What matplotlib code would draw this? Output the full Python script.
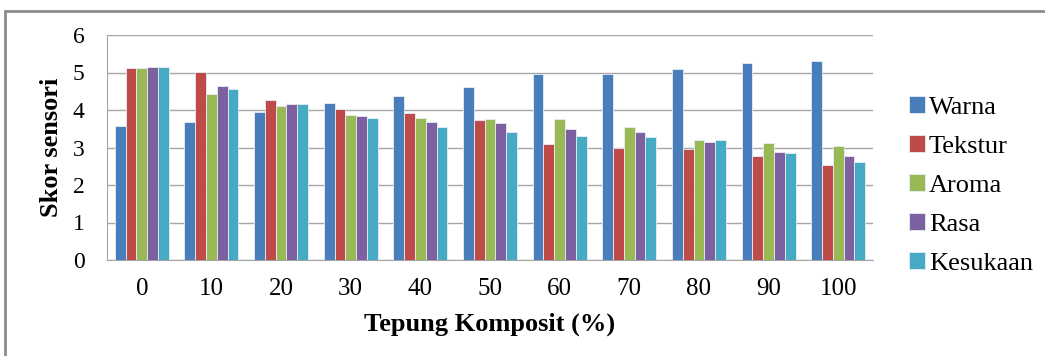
import matplotlib.pyplot as plt
import numpy as np
from matplotlib.patches import Rectangle

plt.rcParams['font.family'] = ['Liberation Serif', 'DejaVu Serif']

# data
categories = ['0', '10', '20', '30', '40', '50', '60', '70', '80', '90', '100']
series_names = ['Warna', 'Tekstur', 'Aroma', 'Rasa', 'Kesukaan']
warna = [3.57, 3.68, 3.96, 4.20, 4.38, 4.62, 4.96, 4.96, 5.09, 5.25, 5.32]
tekstur = [5.11, 5.01, 4.28, 4.04, 3.91, 3.73, 3.10, 3.00, 2.95, 2.77, 2.53]
aroma = [5.11, 4.43, 4.10, 3.88, 3.80, 3.76, 3.76, 3.55, 3.21, 3.13, 3.03]
rasa = [5.16, 4.65, 4.15, 3.83, 3.68, 3.65, 3.50, 3.42, 3.16, 2.87, 2.77]
kesukaan = [5.16, 4.57, 4.15, 3.80, 3.55, 3.42, 3.30, 3.27, 3.21, 2.85, 2.61]
values = [warna, tekstur, aroma, rasa, kesukaan]
colors = ['#4A7EBB', '#BE4B48', '#98B954', '#7D60A0', '#46AAC5']

fig = plt.figure(figsize=(10.45, 3.56), dpi=100)
# outer chart border (only left/top visible in the picture)
fig.patches.append(Rectangle((5/1045, -0.05), 1.1, 1 - 11/356 + 0.05,
                             transform=fig.transFigure, fill=False,
                             edgecolor='#8c8c8c', linewidth=2))

ax = fig.add_axes([107/1045, 96/356, 766/1045, 225/356])
x = np.arange(len(categories))
w = 0.155
for i, (name, vals, c) in enumerate(zip(series_names, values, colors)):
    ax.bar(x + (i - 2) * w, vals, w, color=c, label=name,
           edgecolor='#e8eef6', linewidth=0.6, zorder=3)

ax.set_xlim(-0.5, len(categories) - 0.5)
ax.set_ylim(0, 6)
ax.set_yticks(range(0, 7))
ax.set_xticks(x)
ax.set_xticklabels(categories)
ax.tick_params(axis='x', length=0, labelsize=18, pad=13)
ax.tick_params(axis='y', length=0, labelsize=17, pad=16)
ax.grid(axis='y', color='#a6a6a6', linewidth=1, zorder=0)
for s in ['top', 'right']:
    ax.spines[s].set_visible(False)
for s in ['left', 'bottom']:
    ax.spines[s].set_color('#a6a6a6')
ax.set_ylabel('Skor sensori', fontsize=19, fontweight='bold', labelpad=7)
ax.set_xlabel('Tepung Komposit (%)', fontsize=19, fontweight='bold', labelpad=9)

leg = ax.legend(loc='center left', bbox_to_anchor=(1.047, 0.33), frameon=False,
                fontsize=19, handlelength=0.6, handleheight=0.6,
                handletextpad=0.15, labelspacing=0.62,
                borderpad=0, borderaxespad=0)

fig.savefig('out.png', dpi=100)
